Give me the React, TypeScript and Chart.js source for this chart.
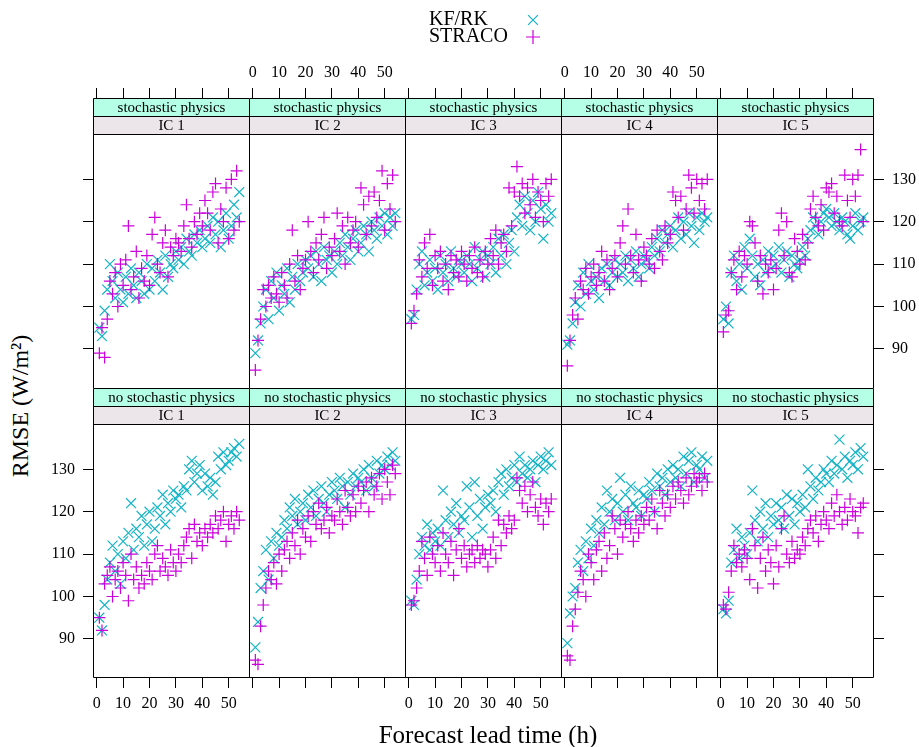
import React, { useEffect, useRef } from 'react';
import { Chart, registerables } from 'chart.js';

Chart.register(...registerables);

// ---------------- data ----------------
const LEAD = [
  1, 2, 3, 4, 5, 6, 7, 8, 9, 10, 11, 12, 13, 14, 15, 16, 17, 18, 19, 20,
  21, 22, 23, 24, 25, 26, 27, 28, 29, 30, 31, 32, 33, 34, 35, 36, 37, 38, 39, 40,
  41, 42, 43, 44, 45, 46, 47, 48, 49, 50, 51, 52, 53, 54,
];
const X_TICKS = [0, 10, 20, 30, 40, 50];
const Y_TICKS = [90, 100, 110, 120, 130];
const SERIES = ['KF/RK', 'STRACO'];
const ROW_STRIPS = ['stochastic physics', 'no stochastic physics'];
const IC_STRIPS = ['IC 1', 'IC 2', 'IC 3', 'IC 4', 'IC 5'];

// stochastic physics, KF/RK
const KF_SP_1 = [95, 93, 99, 104, 110, 106, 102, 108, 104, 101, 107, 103, 109, 105, 102, 108, 106, 103, 110, 104, 109, 106, 111, 108, 104, 112, 107, 110, 109, 113, 111, 114, 110, 116, 113, 112, 117, 115, 118, 114, 116, 119, 115, 121, 117, 120, 114, 118, 122, 116, 119, 124, 121, 127];
const KF_SP_2 = [89, 92, 96, 100, 104, 97, 106, 102, 108, 99, 105, 103, 109, 101, 107, 104, 110, 106, 108, 111, 109, 112, 107, 113, 110, 106, 114, 111, 112, 108, 113, 110, 115, 112, 117, 114, 111, 116, 118, 113, 115, 119, 117, 113, 120, 118, 116, 121, 119, 122, 117, 121, 119, 122];
const KF_SP_3 = [97, 98, 104, 110, 113, 105, 108, 111, 106, 109, 104, 112, 108, 110, 106, 113, 109, 107, 111, 110, 108, 112, 110, 106, 114, 109, 111, 113, 107, 112, 110, 114, 108, 116, 112, 117, 110, 115, 118, 113, 121, 124, 119, 126, 122, 118, 125, 120, 127, 123, 116, 124, 120, 122];
const KF_SP_4 = [91, 92, 96, 101, 105, 100, 108, 103, 110, 106, 104, 107, 102, 109, 106, 110, 105, 108, 111, 107, 110, 108, 112, 106, 111, 109, 113, 107, 110, 112, 111, 109, 114, 112, 116, 113, 118, 115, 117, 119, 114, 118, 121, 116, 120, 117, 122, 119, 115, 121, 118, 122, 120, 121];
const KF_SP_5 = [97, 100, 96, 108, 112, 106, 110, 104, 114, 109, 116, 112, 107, 110, 105, 111, 108, 113, 109, 112, 110, 114, 108, 111, 113, 107, 112, 110, 109, 111, 114, 112, 116, 118, 121, 119, 117, 120, 122, 123, 121, 119, 122, 120, 118, 121, 120, 117, 116, 119, 122, 118, 120, 121];

// stochastic physics, STRACO
const ST_SP_1 = [89, 95, 88, 97, 106, 103, 108, 100, 110, 105, 111, 119, 104, 107, 113, 102, 109, 106, 112, 105, 117, 121, 110, 108, 115, 118, 107, 114, 112, 116, 115, 113, 119, 124, 116, 114, 120, 117, 122, 119, 125, 122, 118, 127, 129, 115, 123, 120, 128, 116, 130, 118, 132, 120];
const ST_SP_2 = [85, 92, 97, 104, 100, 105, 102, 107, 103, 101, 108, 105, 102, 110, 118, 106, 112, 104, 109, 111, 120, 113, 108, 115, 111, 117, 121, 109, 114, 112, 116, 122, 113, 119, 110, 121, 115, 118, 120, 114, 128, 124, 117, 126, 119, 127, 121, 125, 132, 118, 129, 123, 131, 120];
const ST_SP_3 = [96, 99, 103, 111, 107, 115, 109, 117, 105, 112, 109, 113, 106, 110, 104, 112, 108, 111, 107, 113, 110, 106, 112, 109, 114, 108, 111, 107, 113, 110, 116, 112, 118, 110, 115, 117, 113, 128, 119, 127, 133, 126, 129, 122, 128, 124, 130, 121, 127, 125, 120, 129, 126, 130];
const ST_SP_4 = [86, 92, 98, 102, 97, 106, 104, 109, 103, 107, 110, 105, 108, 113, 106, 111, 104, 109, 112, 107, 115, 119, 110, 123, 112, 108, 117, 111, 106, 114, 112, 110, 116, 109, 118, 113, 111, 119, 115, 117, 127, 125, 121, 126, 118, 123, 131, 128, 122, 130, 125, 129, 123, 130];
const ST_SP_5 = [94, 98, 99, 108, 111, 104, 113, 107, 112, 110, 120, 119, 115, 106, 112, 103, 110, 108, 111, 104, 109, 118, 122, 112, 120, 108, 107, 116, 113, 110, 117, 111, 115, 123, 126, 121, 119, 124, 118, 128, 127, 129, 122, 126, 120, 119, 131, 125, 121, 130, 126, 131, 137, 120];

// no stochastic physics, KF/RK
const KF_NSP_1 = [95, 92, 98, 104, 108, 112, 106, 110, 103, 113, 109, 115, 122, 111, 116, 114, 119, 112, 117, 120, 113, 116, 121, 119, 124, 117, 122, 120, 125, 123, 124, 121, 126, 125, 130, 132, 127, 129, 131, 125, 129, 126, 128, 124, 127, 133, 130, 134, 131, 132, 134, 135, 133, 136];
const KF_NSP_2 = [88, 94, 102, 106, 111, 104, 113, 109, 115, 112, 114, 118, 116, 121, 119, 123, 117, 120, 122, 118, 124, 121, 125, 119, 123, 126, 122, 120, 124, 127, 125, 123, 128, 126, 121, 127, 124, 129, 126, 128, 127, 130, 125, 131, 128, 126, 132, 129, 131, 130, 133, 131, 134, 132];
const KF_NSP_3 = [99, 98, 104, 110, 114, 112, 117, 111, 115, 113, 116, 112, 125, 118, 114, 120, 117, 122, 115, 119, 118, 126, 121, 114, 127, 119, 123, 116, 121, 124, 122, 125, 120, 127, 129, 124, 130, 126, 128, 131, 127, 133, 129, 131, 128, 130, 132, 127, 131, 133, 130, 132, 134, 131];
const KF_NSP_4 = [89, 96, 100, 102, 108, 111, 106, 113, 109, 116, 112, 118, 115, 121, 117, 125, 120, 123, 118, 122, 128, 120, 124, 118, 126, 122, 121, 125, 119, 124, 123, 127, 125, 120, 129, 126, 128, 124, 130, 127, 131, 128, 130, 126, 133, 129, 132, 134, 127, 131, 130, 133, 128, 132];
const KF_NSP_5 = [97, 96, 99, 108, 111, 116, 109, 114, 112, 110, 115, 125, 118, 113, 120, 116, 122, 114, 119, 117, 122, 118, 121, 116, 124, 119, 123, 117, 122, 120, 124, 121, 130, 126, 123, 128, 125, 127, 130, 129, 127, 132, 129, 131, 137, 130, 133, 128, 132, 131, 134, 130, 135, 133];

// no stochastic physics, STRACO
const ST_NSP_1 = [95, 92, 103, 105, 107, 100, 104, 106, 102, 108, 105, 99, 110, 104, 107, 102, 105, 103, 108, 106, 104, 110, 112, 106, 109, 107, 105, 111, 108, 106, 110, 108, 112, 114, 116, 109, 117, 113, 115, 112, 116, 114, 117, 115, 119, 116, 118, 120, 113, 117, 119, 116, 120, 118];
const ST_NSP_2 = [85, 84, 93, 98, 102, 106, 104, 108, 103, 110, 106, 111, 113, 109, 115, 112, 118, 110, 116, 114, 119, 113, 120, 117, 122, 116, 118, 121, 115, 119, 118, 123, 120, 117, 125, 121, 119, 124, 120, 126, 122, 125, 127, 120, 128, 124, 126, 129, 123, 130, 127, 124, 131, 129];
const ST_NSP_3 = [98, 99, 102, 106, 113, 109, 105, 114, 110, 108, 112, 106, 115, 110, 108, 113, 105, 111, 116, 109, 112, 107, 110, 111, 108, 112, 109, 111, 110, 107, 111, 114, 109, 118, 112, 117, 115, 119, 116, 118, 128, 125, 122, 126, 120, 124, 127, 121, 119, 123, 117, 122, 120, 123];
const ST_NSP_4 = [86, 85, 93, 97, 101, 106, 104, 100, 110, 108, 104, 111, 113, 106, 115, 109, 112, 119, 116, 110, 118, 114, 117, 120, 116, 113, 118, 115, 119, 117, 121, 118, 123, 120, 116, 125, 122, 119, 124, 121, 126, 123, 127, 125, 122, 128, 124, 126, 129, 127, 128, 125, 129, 127];
const ST_NSP_5 = [98, 97, 101, 106, 112, 108, 110, 107, 111, 109, 104, 116, 112, 102, 109, 114, 106, 111, 108, 103, 112, 107, 116, 119, 110, 108, 113, 109, 111, 110, 114, 112, 116, 118, 115, 119, 113, 117, 120, 118, 116, 122, 119, 124, 120, 117, 121, 118, 123, 120, 119, 115, 121, 122];

const KF_ROWS = [
  [KF_SP_1, KF_SP_2, KF_SP_3, KF_SP_4, KF_SP_5],
  [KF_NSP_1, KF_NSP_2, KF_NSP_3, KF_NSP_4, KF_NSP_5],
];
const ST_ROWS = [
  [ST_SP_1, ST_SP_2, ST_SP_3, ST_SP_4, ST_SP_5],
  [ST_NSP_1, ST_NSP_2, ST_NSP_3, ST_NSP_4, ST_NSP_5],
];

// ---------------- style / geometry ----------------
const FONT = '"Liberation Serif", "Times New Roman", serif';
const CYAN = '#14b4c6';
const MAGENTA = '#cc00dd';
const STRIP1_BG = '#b4ffe6';
const STRIP2_BG = '#ece5ea';

const COL_LEFT0 = 93;
const COL_STEP = 156;
const PANEL_W = 157;
const ROW_TOP = [98, 388];
const ROW_H = [291, 290];
const STRIP_H = 18;
const Y130_PX = [179.3, 469.3];
const Y_PX_PER_UNIT = 4.24;
const X0_OFFSET = 3.7;
const X_PX_PER_UNIT = 2.64;

const XMIN = -X0_OFFSET / X_PX_PER_UNIT;
const XMAX = XMIN + PANEL_W / X_PX_PER_UNIT;

function drawSymbol(ctx: CanvasRenderingContext2D, style: string, x: number, y: number, r: number, color: string) {
  ctx.save();
  ctx.strokeStyle = color;
  ctx.lineWidth = 1.2;
  ctx.beginPath();
  if (style === 'cross') {
    ctx.moveTo(x - r, y); ctx.lineTo(x + r, y);
    ctx.moveTo(x, y - r); ctx.lineTo(x, y + r);
  } else {
    const d = r * Math.SQRT1_2;
    ctx.moveTo(x - d, y - d); ctx.lineTo(x + d, y + d);
    ctx.moveTo(x - d, y + d); ctx.lineTo(x + d, y - d);
  }
  ctx.stroke();
  ctx.restore();
}

const decorPlugin = {
  id: 'decor',
  afterDatasetsDraw(chart: any, _args: any, opts: any) {
    const { ctx, chartArea: a } = chart;
    const l = a.left + 0.5, r = a.right - 0.5, t = a.top + 0.5, b = a.bottom - 0.5;
    ctx.save();
    ctx.fillStyle = STRIP1_BG;
    ctx.fillRect(a.left, a.top, a.width, STRIP_H);
    ctx.fillStyle = STRIP2_BG;
    ctx.fillRect(a.left, a.top + STRIP_H, a.width, STRIP_H);
    ctx.strokeStyle = '#000';
    ctx.lineWidth = 1;
    ctx.beginPath();
    ctx.moveTo(l, t); ctx.lineTo(r, t); ctx.lineTo(r, b); ctx.lineTo(l, b); ctx.closePath();
    ctx.moveTo(l, t + STRIP_H); ctx.lineTo(r, t + STRIP_H);
    ctx.moveTo(l, t + 2 * STRIP_H); ctx.lineTo(r, t + 2 * STRIP_H);
    ctx.stroke();
    ctx.fillStyle = '#000';
    ctx.font = `15px ${FONT}`;
    ctx.textAlign = 'center';
    ctx.textBaseline = 'middle';
    const cx = (a.left + a.right) / 2;
    ctx.fillText(opts.strip1, cx, a.top + STRIP_H / 2 + 1);
    ctx.fillText(opts.strip2, cx, a.top + STRIP_H * 1.5 + 1);
    if (opts.legend) {
      const lg = opts.legend;
      ctx.font = `20px ${FONT}`;
      ctx.textAlign = 'left';
      SERIES.forEach((name, i) => {
        const ds = chart.data.datasets.find((d: any) => d.label === name);
        const y = lg.y + i * lg.dy;
        ctx.fillStyle = '#000';
        ctx.fillText(name, lg.x, y);
        drawSymbol(ctx, ds.pointStyle, lg.symX, y, 7, ds.borderColor);
      });
    }
    ctx.restore();
  },
};

function panelGeom(r: number, c: number) {
  const L = COL_LEFT0 + COL_STEP * c;
  const T = ROW_TOP[r];
  const H = ROW_H[r];
  const AL = c === 0 ? 60 : 0;
  const AR = c === 4 ? 919 - (L + PANEL_W) : 0;
  const AT = r === 0 ? (c === 2 ? T : 40) : 0;
  const AB = r === 1 ? 46 : 0;
  return {
    L, T, H, AL, AR, AT, AB,
    left: L - AL,
    top: T - AT,
    width: AL + PANEL_W + AR,
    height: AT + H + AB,
  };
}

function makeConfig(r: number, c: number): any {
  const g = panelGeom(r, c);
  const ymax = 130 + (Y130_PX[r] - g.T) / Y_PX_PER_UNIT;
  const ymin = 130 - (g.T + g.H - Y130_PX[r]) / Y_PX_PER_UNIT;
  const showXLabels = r === 0 ? c === 1 || c === 3 : c % 2 === 0;
  const showY = c === 0 || c === 4;
  const showYLabels = (r === 1 && c === 0) || (r === 0 && c === 4);
  const tickFont = { family: FONT, size: 16 };
  const grid = {
    display: true,
    drawOnChartArea: false,
    drawTicks: true,
    tickLength: 10,
    color: '#000',
    tickColor: '#000',
    lineWidth: 1,
  };
  return {
    type: 'scatter',
    data: {
      datasets: [
        {
          label: SERIES[0],
          data: LEAD.map((x, i) => ({ x, y: KF_ROWS[r][c][i] })),
          pointStyle: 'crossRot',
          pointRadius: 7,
          borderColor: CYAN,
          backgroundColor: CYAN,
          borderWidth: 1.2,
          order: 1,
        },
        {
          label: SERIES[1],
          data: LEAD.map((x, i) => ({ x, y: ST_ROWS[r][c][i] })),
          pointStyle: 'cross',
          pointRadius: 6,
          borderColor: MAGENTA,
          backgroundColor: MAGENTA,
          borderWidth: 1.2,
          order: 0,
        },
      ],
    },
    options: {
      animation: false,
      responsive: false,
      events: [],
      layout: { padding: 0, autoPadding: false },
      plugins: {
        legend: { display: false },
        tooltip: { enabled: false },
        title: { display: false },
        decor: {
          strip1: ROW_STRIPS[r],
          strip2: IC_STRIPS[c],
          legend: r === 0 && c === 2 ? { x: 429 - g.left, y: 20 - g.top, dy: 17, symX: 533 - g.left } : null,
        },
      },
      scales: {
        x: {
          type: 'linear',
          min: XMIN,
          max: XMAX,
          position: r === 0 ? 'top' : 'bottom',
          display: true,
          grid,
          border: { display: false },
          ticks: { display: showXLabels, font: tickFont, color: '#000', padding: 6, maxRotation: 0, autoSkip: false },
          afterBuildTicks: (s: any) => { s.ticks = X_TICKS.map((v) => ({ value: v })); },
          afterFit: (s: any) => {
            s.height = r === 0 ? g.AT : g.AB;
            s.paddingLeft = 0; s.paddingRight = 0; s.paddingTop = 0; s.paddingBottom = 0;
          },
        },
        y: {
          type: 'linear',
          min: ymin,
          max: ymax,
          position: c === 4 ? 'right' : 'left',
          display: showY,
          grid,
          border: { display: false },
          ticks: { display: showYLabels, font: tickFont, color: '#000', padding: 8 },
          afterBuildTicks: (s: any) => { s.ticks = Y_TICKS.map((v) => ({ value: v })); },
          afterFit: (s: any) => {
            s.width = c === 0 ? g.AL : g.AR;
            s.paddingLeft = 0; s.paddingRight = 0; s.paddingTop = 0; s.paddingBottom = 0;
          },
        },
      },
    },
    plugins: [decorPlugin],
  };
}

function Panel({ r, c }: { r: number; c: number }) {
  const ref = useRef<HTMLCanvasElement>(null);
  const g = panelGeom(r, c);
  useEffect(() => {
    if (!ref.current) return;
    const chart = new Chart(ref.current, makeConfig(r, c));
    return () => chart.destroy();
  }, [r, c]);
  return (
    <canvas
      ref={ref}
      width={g.width}
      height={g.height}
      style={{ position: 'absolute', left: g.left, top: g.top, width: g.width, height: g.height }}
    />
  );
}

export default function App() {
  const panels = [];
  for (let r = 0; r < 2; r++) {
    for (let c = 0; c < 5; c++) panels.push(<Panel key={`${r}-${c}`} r={r} c={c} />);
  }
  return (
    <div style={{ position: 'absolute', left: 0, top: 0, width: 919, height: 747, background: '#fff', overflow: 'hidden' }}>
      {panels}
      <div
        style={{
          position: 'absolute', left: 20, top: 406, transform: 'translate(-50%, -50%) rotate(-90deg)',
          fontFamily: FONT, fontSize: 24, lineHeight: 1, whiteSpace: 'nowrap', color: '#000',
        }}
      >
        RMSE (W/m²)
      </div>
      <div
        style={{
          position: 'absolute', left: 488, top: 734, transform: 'translate(-50%, -50%)',
          fontFamily: FONT, fontSize: 25, lineHeight: 1, whiteSpace: 'nowrap', color: '#000',
        }}
      >
        Forecast lead time (h)
      </div>
    </div>
  );
}
